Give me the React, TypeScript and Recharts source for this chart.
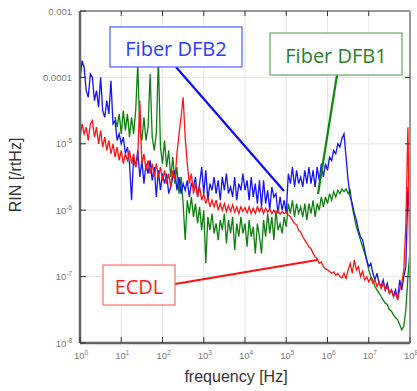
import { LineChart, Line, XAxis, YAxis, CartesianGrid, ReferenceLine, ReferenceDot } from 'recharts'

// log10 of frequency [Hz]
const freqExp = [
  0, 0.05, 0.1, 0.15, 0.2, 0.25, 0.3, 0.35, 0.4, 0.45,
  0.5, 0.55, 0.6, 0.65, 0.7, 0.75, 0.8, 0.85, 0.9, 0.95,
  1, 1.05, 1.1, 1.15, 1.2, 1.25, 1.3, 1.35, 1.4, 1.45,
  1.5, 1.55, 1.6, 1.65, 1.7, 1.75, 1.8, 1.85, 1.9, 1.95,
  2, 2.05, 2.1, 2.15, 2.2, 2.25, 2.3, 2.35, 2.4, 2.45,
  2.5, 2.55, 2.6, 2.65, 2.7, 2.75, 2.8, 2.85, 2.9, 2.95,
  3, 3.05, 3.1, 3.15, 3.2, 3.25, 3.3, 3.35, 3.4, 3.45,
  3.5, 3.55, 3.6, 3.65, 3.7, 3.75, 3.8, 3.85, 3.9, 3.95,
  4, 4.05, 4.1, 4.15, 4.2, 4.25, 4.3, 4.35, 4.4, 4.45,
  4.5, 4.55, 4.6, 4.65, 4.7, 4.75, 4.8, 4.85, 4.9, 4.95,
  5, 5.05, 5.1, 5.15, 5.2, 5.25, 5.3, 5.35, 5.4, 5.45,
  5.5, 5.55, 5.6, 5.65, 5.7, 5.75, 5.8, 5.85, 5.9, 5.95,
  6, 6.05, 6.1, 6.15, 6.2, 6.25, 6.3, 6.35, 6.4, 6.45,
  6.5, 6.55, 6.6, 6.65, 6.7, 6.75, 6.8, 6.85, 6.9, 6.95,
  7, 7.05, 7.1, 7.15, 7.2, 7.25, 7.3, 7.35, 7.4, 7.45,
  7.5, 7.55, 7.6, 7.65, 7.7, 7.75, 7.8, 7.85, 7.9, 7.95,
  8,
]

// log10 of RIN [/rtHz]
const dfb2Rin = [
  -4.05, -3.75, -3.85, -4.2, -4.3, -3.95, -4.0, -4.35, -4.2, -4.45,
  -4.0, -4.5, -4.6, -4.35, -4.55, -4.05, -4.7, -4.65, -4.95, -4.85,
  -5.0, -4.9, -5.15, -5.05, -5.3, -5.85, -5.2, -5.35, -5.1, -5.5,
  -5.25, -5.6, -5.3, -5.45, -5.25, -5.55, -5.35, -5.8, -5.4, -5.7,
  -5.45, -5.6, -5.45, -5.75, -5.65, -5.5, -5.4, -5.7, -5.5, -5.75,
  -5.6, -5.7, -5.55, -5.8, -5.6, -5.65, -5.5, -5.8, -5.6, -5.35,
  -5.75, -5.4, -5.85, -5.6, -5.7, -5.5, -5.75, -5.55, -5.85, -5.5,
  -5.7, -5.45, -5.75, -5.65, -5.8, -5.5, -5.85, -5.6, -5.7, -5.45,
  -5.7, -5.55, -5.85, -5.5, -5.8, -5.6, -5.9, -5.55, -5.95, -5.55,
  -5.9, -5.7, -6.0, -5.65, -5.8, -5.75, -6.05, -5.8, -6.0, -5.85,
  -6.05, -5.45, -5.6, -5.35, -5.65, -5.4, -5.6, -5.5, -5.65, -5.4,
  -5.6, -5.35, -5.6, -5.4, -5.65, -5.35, -5.55, -5.3, -5.5, -5.3,
  -5.4, -5.2, -5.25, -5.1, -5.15, -5.0, -5.05, -4.92, -4.85, -5.2,
  -5.55, -5.8, -5.9, -6.05, -6.15, -6.3, -6.4, -6.45, -6.6, -6.75,
  -6.85, -6.8, -6.95, -7.05, -6.95, -7.1, -7.15, -7.05, -7.2, -7.1,
  -7.25, -7.2, -7.3, -7.2, -7.35, -7.05, -7.2, -7.0, -6.85, -5.65,
  -6.2,
]

const dfb1Rin = [
  null, null, null, null, null, null, null, null, null, null,
  null, null, null, null, null, null, null, -4.6, -4.75, -4.55,
  -4.85, -4.5, -4.8, -4.55, -4.9, -4.6, -4.85, -4.5, -3.8, -4.8,
  -4.95, -4.6, -4.95, -4.75, -3.95, -4.9, -5.1, -4.85, -3.7, -5.05,
  -5.3, -4.95, -5.35, -5.1, -5.5, -5.2, -5.6, -5.35, -5.75, -5.5,
  -5.9, -6.45, -5.85, -6.05, -5.8, -6.1, -5.9, -6.2, -5.95, -6.3,
  -6.0, -6.8, -6.1, -6.3, -6.05, -6.35, -6.2, -6.45, -6.15, -6.3,
  -6.05, -6.5, -6.15, -6.35, -6.1, -6.6, -6.2, -6.4, -6.1, -6.35,
  -6.2, -6.55, -6.15, -6.4, -6.25, -6.65, -6.2, -6.4, -6.65, -6.15,
  -6.4, -6.05, -6.35, -6.1, -6.45, -6.0, -6.3, -6.2, -6.35, -6.1,
  -6.25, -5.9, -6.05, -5.85, -6.1, -5.9, -6.05, -5.95, -6.1, -5.9,
  -6.15, -5.9, -6.05, -5.85, -6.1, -5.9, -6.0, -5.8, -5.95, -5.8,
  -5.9, -5.75, -5.85, -5.72, -5.8, -5.7, -5.75, -5.68, -5.72, -5.68,
  -5.75, -5.7, -5.95, -6.1, -6.25, -6.35, -6.45, -6.55, -6.65, -6.75,
  -6.9, -7.0, -7.05, -7.15, -7.2, -7.25, -7.3, -7.35, -7.4, -7.42,
  -7.5, -7.52, -7.58, -7.62, -7.65, -7.72, -7.8, -7.75, -7.5, -7.0,
  -6.6,
]

const ecdlRin = [
  -4.9, -4.7, -4.85, -4.75, -4.95, -4.7, -4.65, -4.9, -4.75, -5.0,
  -4.8, -5.05, -4.9, -5.1, -4.95, -5.15, -5.0, -5.2, -5.05, -5.25,
  -5.1, -5.3, -5.15, -5.25, -5.1, -5.3, -5.15, -5.35, -5.2, -4.35,
  -5.3, -5.15, -5.4, -5.25, -5.45, -5.3, -5.5, -5.3, -5.5, -5.35,
  -5.55, -5.4, -5.6, -5.45, -5.65, -5.4, -5.55, -5.15, -4.85, -4.6,
  -4.3, -4.9, -5.3, -5.6, -5.45, -5.75, -5.6, -5.8, -5.65, -5.85,
  -5.75, -5.9, -5.8, -5.95, -5.85, -5.95, -5.85, -6.0, -5.9, -6.0,
  -5.9, -6.02, -5.93, -6.02, -5.92, -6.03, -5.95, -6.05, -5.95, -6.02,
  -5.96, -6.04, -5.95, -6.05, -5.97, -6.05, -5.95, -6.02, -5.95, -6.05,
  -5.97, -6.03, -5.98, -6.05, -6.0, -6.05, -6.0, -6.06, -6.02, -6.05,
  -6.03, -6.07, -6.1, -6.15, -6.2, -6.22, -6.3, -6.33, -6.4, -6.45,
  -6.5, -6.55, -6.58, -6.65, -6.7, -6.73, -6.8, -6.78, -6.85, -6.88,
  -6.9, -6.92, -6.95, -6.93, -6.98, -6.95, -7.0, -7.02, -6.95, -7.03,
  -6.9, -6.8, -6.95, -6.75, -6.9, -6.85, -7.0, -6.92, -7.05, -7.0,
  -7.08, -7.02, -7.1, -7.05, -7.15, -7.08, -7.18, -7.1, -7.2, -7.15,
  -7.25, -7.2, -7.3, -7.25, -7.35, -7.2, -7.1, -6.9, -6.2, -4.75,
  -7.0,
]

const xTicks = [0, 1, 2, 3, 4, 5, 6, 7, 8]
const yTicks = [-8, -7, -6, -5, -4, -3]

const data = freqExp.map((f, i) => ({
  f,
  dfb2: dfb2Rin[i],
  dfb1: dfb1Rin[i],
  ecdl: ecdlRin[i],
}))

const labelFont = 'Liberation Sans, Arial, sans-serif'
const boxFont = 'Open Sans, sans-serif'

function XTick({ x, y, payload }: any) {
  return (
    <g>
      <line x1={x} x2={x} y1={y} y2={y - 6} stroke="#333" strokeWidth={1} />
      <text x={x + 1} y={y + 16} textAnchor="middle" fontSize={9.5} fill="#777" fontFamily={labelFont}>
        10<tspan dy={-4} fontSize={6.5}>{payload.value}</tspan>
      </text>
    </g>
  )
}

function YTick({ x, y, payload }: any) {
  const v = payload.value
  return (
    <g>
      <line x1={x} x2={x + 6} y1={y} y2={y} stroke="#333" strokeWidth={1} />
      {v >= -4 ? (
        <text x={x - 8} y={y + 3.5} textAnchor="end" fontSize={9.5} fill="#777" fontFamily={labelFont}>
          {v === -3 ? '0.001' : '0.0001'}
        </text>
      ) : (
        <text x={x - 8} y={y + 3.5} textAnchor="end" fontSize={9.5} fill="#777" fontFamily={labelFont}>
          10<tspan dy={-4} fontSize={6.5}>{v}</tspan>
        </text>
      )}
    </g>
  )
}

function TopTick({ x, y }: any) {
  return <line x1={x} x2={x} y1={y} y2={y + 5} stroke="#333" strokeWidth={1} />
}

function RightTick({ x, y }: any) {
  return <line x1={x} x2={x - 5} y1={y} y2={y} stroke="#333" strokeWidth={1} />
}

function boxShape(text: string, w: number, h: number, border: string, color: string) {
  return (props: any) => (
    <g>
      <rect x={props.cx - w / 2} y={props.cy - h / 2} width={w} height={h} fill="#fff" stroke={border} strokeWidth={1.2} />
      <text x={props.cx} y={props.cy + 9} textAnchor="middle" fontSize={20} fill={color} fontFamily={boxFont}>
        {text}
      </text>
    </g>
  )
}

export default function App() {
  return (
    <div style={{ position: 'absolute', left: 0, top: 0, width: 417, height: 391, background: '#fff' }}>
      <LineChart width={417} height={391} data={data} margin={{ top: 10, right: 6, left: 0, bottom: 0 }}>
        <CartesianGrid stroke="#e6e6e6" strokeWidth={1} />
        <XAxis
          dataKey="f"
          type="number"
          domain={[0, 8]}
          ticks={xTicks}
          interval={0}
          height={48}
          tickSize={0}
          tickMargin={0}
          tickLine={false}
          tick={<XTick />}
          axisLine={{ stroke: '#666', strokeWidth: 2.5 }}
          allowDataOverflow
        />
        <XAxis
          xAxisId="top"
          dataKey="f"
          orientation="top"
          type="number"
          domain={[0, 8]}
          ticks={[1, 2, 3, 4, 5, 6, 7]}
          interval={0}
          height={1}
          tickSize={0}
          tickMargin={0}
          tickLine={false}
          tick={<TopTick />}
          axisLine={{ stroke: '#999', strokeWidth: 2 }}
          allowDataOverflow
        />
        <YAxis
          type="number"
          domain={[-8, -3]}
          ticks={yTicks}
          interval={0}
          width={80}
          tickSize={0}
          tickMargin={0}
          tickLine={false}
          tick={<YTick />}
          axisLine={{ stroke: '#666', strokeWidth: 2.5 }}
          allowDataOverflow
        />
        <YAxis
          yAxisId="right"
          orientation="right"
          type="number"
          domain={[-8, -3]}
          ticks={[-7, -6, -5, -4]}
          interval={0}
          width={1}
          tickSize={0}
          tickMargin={0}
          tickLine={false}
          tick={<RightTick />}
          axisLine={{ stroke: '#999', strokeWidth: 2 }}
          allowDataOverflow
        />
        {/* invisible series only so the top/right frame axes get a scale */}
        <Line xAxisId="top" yAxisId="right" dataKey="ecdl" stroke="none" dot={false} activeDot={false} isAnimationActive={false} />
        <Line dataKey="dfb1" stroke="#0c800c" strokeWidth={1.3} dot={false} isAnimationActive={false} type="linear" />
        <Line dataKey="dfb2" stroke="#1414f5" strokeWidth={1.3} dot={false} isAnimationActive={false} type="linear" />
        <Line dataKey="ecdl" stroke="#ff1414" strokeWidth={1.3} dot={false} isAnimationActive={false} type="linear" />

        <ReferenceLine segment={[{ x: 2.327, y: -3.843 }, { x: 4.945, y: -5.711 }]} stroke="#0a0aff" strokeWidth={2.2} ifOverflow="visible" />
        <ReferenceLine segment={[{ x: 6.23, y: -3.964 }, { x: 5.77, y: -5.756 }]} stroke="#0a8a0a" strokeWidth={2.2} ifOverflow="visible" />
        <ReferenceLine segment={[{ x: 2.303, y: -7.111 }, { x: 5.745, y: -6.75 }]} stroke="#ff1010" strokeWidth={2.2} ifOverflow="visible" />

        <ReferenceDot x={2.327} y={-3.542} r={1} ifOverflow="visible" shape={boxShape('Fiber DFB2', 132, 40, '#4a5cff', '#2a3aff')} />
        <ReferenceDot x={6.206} y={-3.648} r={1} ifOverflow="visible" shape={boxShape('Fiber DFB1', 132, 42, '#62a862', '#2a7f2a')} />
        <ReferenceDot x={1.43} y={-7.127} r={1} ifOverflow="visible" shape={boxShape('ECDL', 72, 40, '#ff6a6a', '#ff1a1a')} />
      </LineChart>
      <svg width={417} height={391} style={{ position: 'absolute', left: 0, top: 0, pointerEvents: 'none' }}>
        <text x={236} y={382} textAnchor="middle" fontSize={16} fill="#333" fontFamily={labelFont}>
          frequency [Hz]
        </text>
        <text
          x={0}
          y={0}
          textAnchor="middle"
          fontSize={16}
          fill="#333"
          fontFamily={labelFont}
          transform="translate(21 175) rotate(-90)"
        >
          RIN [/rtHz]
        </text>
      </svg>
    </div>
  )
}
